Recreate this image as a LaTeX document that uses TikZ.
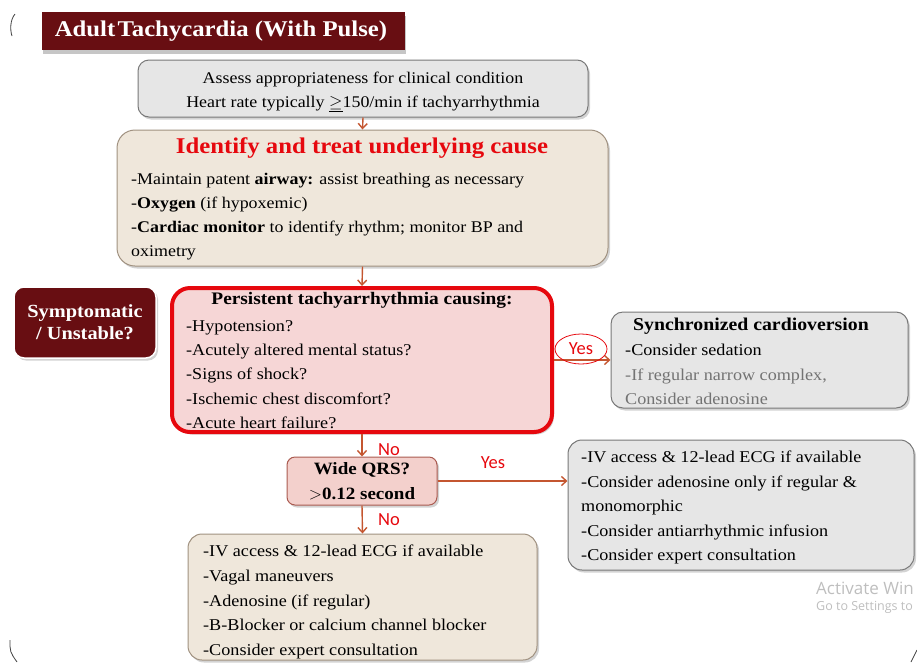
\documentclass[tikz,border=0pt]{standalone}
\usepackage{fontspec}
\setmainfont{Liberation Serif}[FakeStretch=1.1]
\newfontfamily\labelfont{Carlito}
\newfontfamily\wmfont{Open Sans}
\usetikzlibrary{shadows,arrows.meta,shapes.geometric}

\definecolor{maroonbg}{RGB}{104,14,18}
\definecolor{arrowc}{RGB}{196,86,48}
\definecolor{alertred}{RGB}{230,8,14}
\definecolor{beigebg}{RGB}{239,231,219}
\definecolor{beigeline}{RGB}{160,145,128}
\definecolor{greybg}{RGB}{230,230,230}
\definecolor{greyline}{RGB}{120,120,120}
\definecolor{pinkbg}{RGB}{246,214,214}
\definecolor{qrsbg}{RGB}{243,208,204}
\definecolor{qrsline}{RGB}{170,90,80}
\definecolor{softtext}{RGB}{115,115,115}
\definecolor{wmgrey}{RGB}{190,190,190}

\tikzset{
  panel/.style={rounded corners=14pt, inner sep=0pt, line width=1pt,
    drop shadow={shadow xshift=2pt, shadow yshift=-2.5pt, opacity=0.35}},
  lines/.style={anchor=north west, inner sep=0pt, align=left,
    font=\fontsize{16.5}{24.5}\selectfont},
  arr/.style={draw=arrowc, line width=1.4pt,
    -{Straight Barb[length=5pt,width=9pt,line width=1.4pt]}},
  answer/.style={text=alertred, font=\labelfont\fontsize{18.5}{18.5}\selectfont, inner sep=0pt},
  frameline/.style={draw=black!75, line width=0.8pt},
}

\begin{document}
\begin{tikzpicture}[x=1pt,y=-1pt]
\useasboundingbox (0,0) rectangle (917,662);

% corners of the slide frame
\draw[frameline] (15,14) .. controls (10,20) and (10,30) .. (12,36);
\draw[frameline] (10,640) .. controls (10,652) .. (17,662);
\draw[frameline] (911,662) -- (917,650);

% title banner
\node[fill=maroonbg, minimum width=363pt, minimum height=38pt, inner sep=0pt,
  drop shadow={shadow xshift=1pt, shadow yshift=-4pt, opacity=0.45}] (title) at (223.5,31) {};
\node[text=white, font=\bfseries\fontsize{22.5}{22.5}\selectfont, inner sep=0pt] (titletext) at (221,31)
  {Adult\hspace{0.1em}Tachycardia (With Pulse)};

% assessment box
\node[panel, draw=greyline, fill=greybg, rounded corners=11pt, minimum width=450pt, minimum height=57pt] (assess) at (363,88.5) {};
\node[align=center, inner sep=0pt, font=\fontsize{16.3}{24}\selectfont] (assesstext) at (363,92)
  {Assess appropriateness for clinical condition\\
   Heart rate typically $\underline{\geq}$150/min if tachyarrhythmia};

% identify and treat box
\node[panel, draw=beigeline, fill=beigebg, rounded corners=18pt, minimum width=491pt, minimum height=136pt] (cause) at (362.5,198) {};
\node[text=alertred, font=\bfseries\fontsize{22.5}{22.5}\selectfont, inner sep=0pt] (causetitle) at (362,148)
  {Identify and treat underlying cause};
\node[lines, font=\fontsize{16.3}{24}\selectfont] (causelines) at (131,173)
  {-Maintain patent \textbf{airway:} assist breathing as necessary\\
   -\textbf{Oxygen} (if hypoxemic)\\
   -\textbf{Cardiac monitor} to identify rhythm; monitor BP and\\
   oximetry};

% side label
\node[panel, draw=white, line width=1.5pt, fill=maroonbg, rounded corners=10pt, minimum width=142pt, minimum height=71pt] (sympt) at (85,322.5) {};
\node[align=center, text=white, font=\bfseries\fontsize{18.5}{22}\selectfont, inner sep=0pt] (symptext) at (85,322)
  {Symptomatic\\ / Unstable?};

% persistent tachyarrhythmia box
\node[panel, draw=alertred, line width=4pt, fill=pinkbg, rounded corners=18pt, minimum width=380pt, minimum height=144pt] (persist) at (362,360) {};
\node[font=\bfseries\fontsize{17.6}{17.6}\selectfont, inner sep=0pt] (persisttitle) at (362,300)
  {Persistent tachyarrhythmia causing:};
\node[lines, font=\fontsize{16.5}{24.3}\selectfont] (persistlines) at (186,320)
  {-Hypotension?\\
   -Acutely altered mental status?\\
   -Signs of shock?\\
   -Ischemic chest discomfort?\\
   -Acute heart failure?};

% synchronized cardioversion box
\node[panel, draw=greyline, fill=greybg, rounded corners=12pt, minimum width=297pt, minimum height=96pt] (sync) at (759.5,360) {};
\node[font=\bfseries\fontsize{18}{18}\selectfont, inner sep=0pt] (synctitle) at (751,326)
  {Synchronized cardioversion};
\node[lines] (synclines) at (625,344)
  {-Consider sedation\\
   \textcolor{softtext}{-If regular narrow complex,}\\
   \textcolor{softtext}{Consider adenosine}};

% QRS decision
\node[panel, draw=qrsline, fill=qrsbg, rounded corners=8pt, minimum width=150pt, minimum height=48pt] (qrs) at (362,481) {};
\node[align=center, font=\bfseries\fontsize{17.3}{25}\selectfont, inner sep=0pt] (qrstext) at (362,481)
  {Wide QRS?\\ $>$0.12 second};

% wide complex box
\node[panel, draw=greyline, fill=greybg, rounded corners=14pt, minimum width=346pt, minimum height=130pt] (wide) at (741,505) {};
\node[lines] (widelines) at (581,451)
  {-IV access \& 12-lead ECG if available\\
   -Consider adenosine only if regular \&\\
   monomorphic\\
   -Consider antiarrhythmic infusion\\
   -Consider expert consultation};

% narrow complex box
\node[panel, draw=beigeline, fill=beigebg, rounded corners=14pt, minimum width=349pt, minimum height=126pt] (narrow) at (362.5,597) {};
\node[lines, font=\fontsize{16.5}{24.7}\selectfont] (narrowlines) at (203,545)
  {-IV access \& 12-lead ECG if available\\
   -Vagal maneuvers\\
   -Adenosine (if regular)\\
   -B-Blocker or calcium channel blocker\\
   -Consider expert consultation};

% connectors
\draw[arr] (assess.south) -- (cause.north);
\draw[arr] (cause.south) -- (persist.north);
\draw[arr] (persist.east) -- (sync.west);
\draw[arr] (persist.south) -- (qrs.north);
\draw[arr] (qrs.east) -- (qrs.east -| wide.west);
\draw[arr] (qrs.south) -- (narrow.north);

% answers
\node[answer, draw=alertred, line width=0.8pt, ellipse, inner sep=0pt, minimum width=52pt, minimum height=30pt] (yes1) at (581,349) {Yes};
\node[answer] (no1) at (389,450) {No};
\node[answer] (yes2) at (493,463) {Yes};
\node[answer] (no2) at (389,520) {No};

% watermark
\node[anchor=west, text=wmgrey, font=\wmfont\fontsize{17}{17}\selectfont, inner sep=0pt] (wm1) at (816,588) {Activate Win};
\node[anchor=west, text=wmgrey, font=\wmfont\fontsize{12.5}{12.5}\selectfont, inner sep=0pt] (wm2) at (816,607) {Go to Settings to};
\end{tikzpicture}
\end{document}
